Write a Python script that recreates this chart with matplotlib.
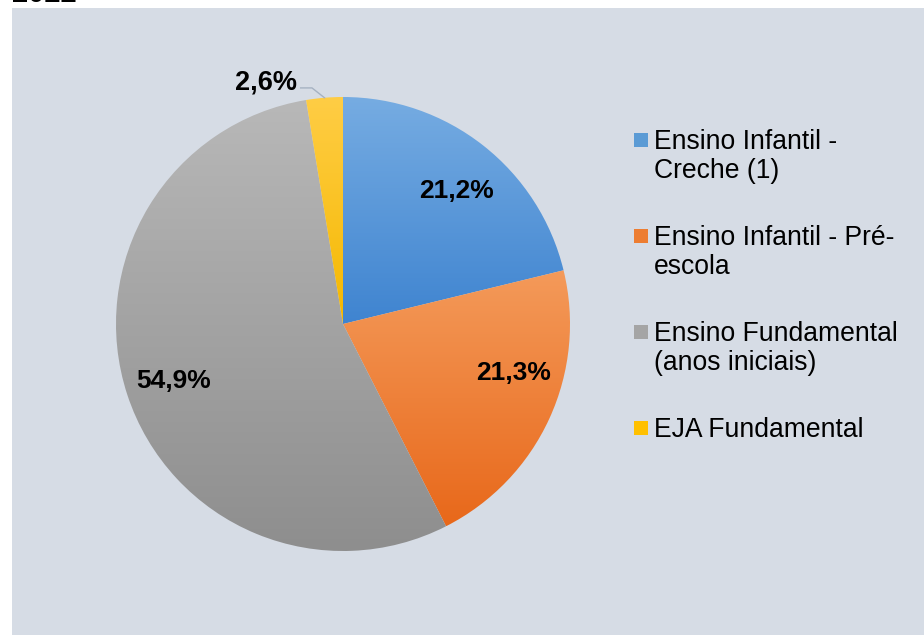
import numpy as np
import matplotlib.pyplot as plt
from matplotlib.patches import Rectangle
from matplotlib.colors import to_rgb

plt.rcParams['font.family'] = ['Liberation Sans', 'DejaVu Sans']

# Matrículas por etapa de ensino, 2022
categories = ['Ensino Infantil -\nCreche (1)',
              'Ensino Infantil - Pré-\nescola',
              'Ensino Fundamental\n(anos iniciais)',
              'EJA Fundamental']
shares = [21.2, 21.3, 54.9, 2.6]
value_labels = ['21,2%', '21,3%', '54,9%', '2,6%']
year_label = '2022'

# top / bottom colours of each slice's vertical gradient
grad_top = ['#76ace2', '#f49a5a', '#b8b8b8', '#ffcd45']
grad_bottom = ['#3f84d0', '#e8681a', '#8e8e8e', '#f5b800']
legend_colors = ['#5b9bd5', '#ed7d31', '#a5a5a5', '#ffc000']

W, H = 924, 635
fig = plt.figure(figsize=(W / 100, H / 100), dpi=100)
fig.patch.set_facecolor('white')

# chart area panel
fig.patches.append(Rectangle((12 / W, 0), 1 - 12 / W, (H - 8) / H,
                             transform=fig.transFigure, facecolor='#d6dce5',
                             edgecolor='none', zorder=0))

fig.text(12 / W, 1 - 2 / H, year_label, fontsize=21, fontweight='bold',
         ha='left', va='baseline', color='black')

cx, cy, r = 343, 324, 227
ax = fig.add_axes([(cx - r) / W, (H - cy - r) / H, 2 * r / W, 2 * r / H])
ax.set_facecolor('none')
ax.set_zorder(2)

wedges, _ = ax.pie(shares, startangle=90, counterclock=False, radius=1,
                   wedgeprops=dict(linewidth=0))

for w, c0, c1 in zip(wedges, grad_top, grad_bottom):
    ext = w.get_path().get_extents()
    n = 256
    t = np.linspace(0, 1, n)[:, None]
    img = (1 - t) * np.array(to_rgb(c0)) + t * np.array(to_rgb(c1))
    img = img[:, None, :]
    w.set_facecolor('none')
    im = ax.imshow(img, extent=(ext.x0, ext.x1, ext.y0, ext.y1),
                   origin='upper', aspect='auto', interpolation='bilinear',
                   zorder=1)
    im.set_clip_path(w)

ax.set_xlim(-1, 1)
ax.set_ylim(-1, 1)
ax.set_aspect('equal')
ax.axis('off')

# value labels
cum = np.cumsum([0] + shares[:-1])
mids = 90 - (cum + np.array(shares) / 2) * 3.6
label_r = [0.77, 0.78, 0.79, None]
angle_shift = [-2.5, 8.5, 0.5, 0]
for i, (lab, m) in enumerate(zip(value_labels, mids)):
    if label_r[i] is None:
        continue
    a = np.deg2rad(m + angle_shift[i])
    ax.text(label_r[i] * np.cos(a), label_r[i] * np.sin(a), lab,
            ha='center', va='center', fontsize=19, fontweight='bold',
            zorder=5)

# small slice: outside label with leader line
a = np.deg2rad(mids[3])
edge = (np.cos(a), np.sin(a))
elbow = (edge[0] - 0.055, 1.04)
start = (elbow[0] - 0.05, 1.04)
ax.plot([start[0], elbow[0], edge[0]], [start[1], elbow[1], edge[1]],
        color='#a6b2c2', lw=1.0, clip_on=False, zorder=4)
ax.text(start[0] - 0.015, 1.065, value_labels[3], ha='right', va='center',
        fontsize=19.5, fontweight='bold', zorder=5)

# legend: colour square plus one text line per label line
for i, (lab, col) in enumerate(zip(categories, legend_colors)):
    base = 149 + i * 96
    fig.patches.append(Rectangle((634 / W, 1 - (base - 2) / H), 14 / W, 14 / H,
                                 transform=fig.transFigure, facecolor=col,
                                 edgecolor='none', zorder=3))
    for j, line in enumerate(lab.split('\n')):
        fig.text(654 / W, 1 - (base + 29 * j) / H, line, fontsize=19.1,
                 ha='left', va='baseline', color='black')

fig.savefig('out.png', dpi=100, facecolor='white')
